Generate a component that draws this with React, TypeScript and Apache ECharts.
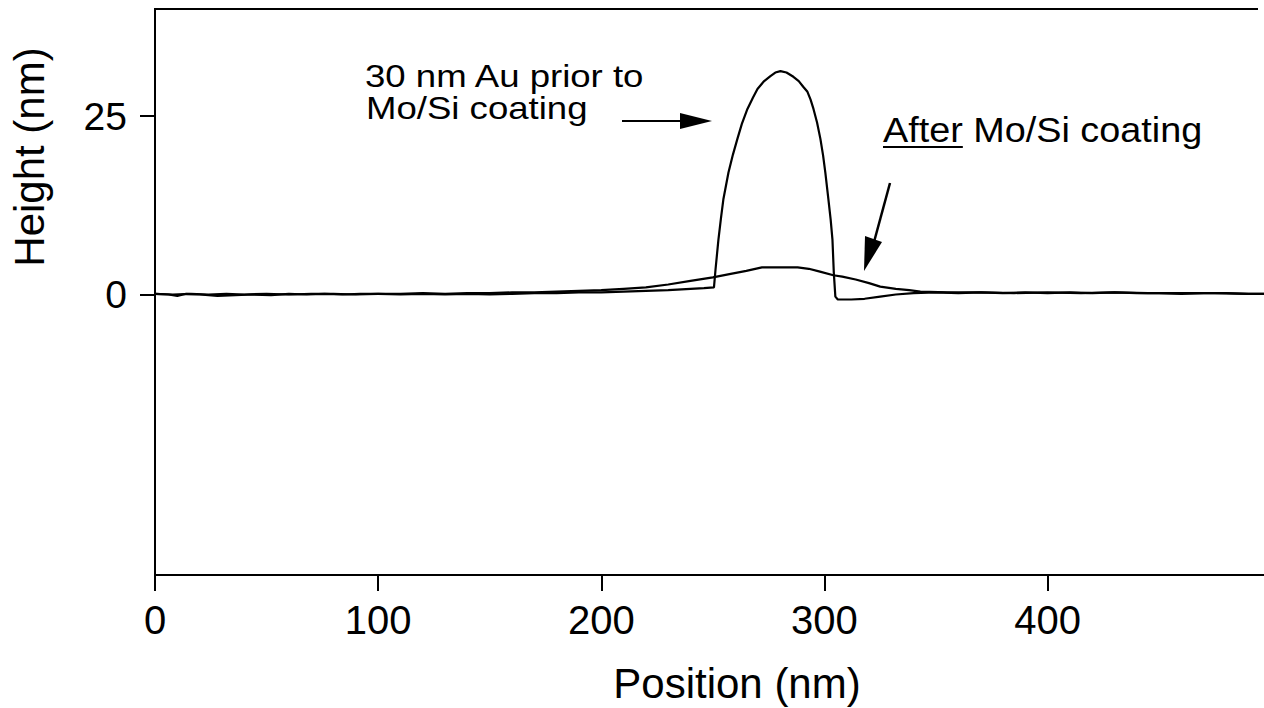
import React, { useEffect, useRef } from "react";
import * as echarts from "echarts";

// Height profile of 30 nm Au line before Mo/Si coating: [position nm, height nm]
const auPrior: [number, number][] = [
  [0, 0.1], [6, 0.0], [10, -0.2], [14, 0.1], [20, 0.0], [28, -0.2], [36, -0.1], [44, 0.0],
  [52, -0.1], [60, 0.1], [68, 0.0], [76, 0.1], [84, 0.0], [92, 0.1], [100, 0.1], [110, 0.0],
  [120, 0.1], [130, 0.0], [140, 0.1], [150, 0.0], [160, 0.1], [170, 0.2], [180, 0.2], [190, 0.3],
  [200, 0.3], [210, 0.4], [220, 0.5], [230, 0.6], [240, 0.8], [246, 0.9], [250.5, 1.0],
  [251.2, 3.5], [252.5, 7.7], [253.6, 10.6], [254.7, 13.3], [257, 17.1], [259, 19.6],
  [261, 21.8], [263, 23.9], [265.5, 26.0], [268, 27.6], [270, 28.8], [273, 29.9],
  [275.8, 30.6], [278, 31.1], [280.3, 31.3], [283, 31.1], [286.1, 30.5], [288.5, 29.9],
  [290.5, 29.1], [292.4, 28.4], [293.8, 27.3], [295.1, 26.0], [296.7, 24.1], [298.2, 21.8],
  [299.4, 19.5], [300.4, 17.1], [301.8, 13.3], [302.8, 10.5], [303.6, 7.7], [304.2, 3.1],
  [304.9, -0.3], [306, -0.7], [312, -0.7], [318, -0.6], [325, -0.3], [332, 0.0], [340, 0.2],
  [350, 0.3], [360, 0.2], [370, 0.3], [380, 0.2], [390, 0.3], [400, 0.2], [410, 0.3],
  [420, 0.2], [430, 0.3], [440, 0.2], [450, 0.2], [460, 0.1], [470, 0.2], [480, 0.2],
  [490, 0.1], [497, 0.1],
];

// Height profile after Mo/Si coating: [position nm, height nm]
const afterCoating: [number, number][] = [
  [0, 0.1], [8, 0.0], [16, 0.1], [24, 0.0], [32, 0.1], [40, 0.0], [50, 0.1], [60, 0.0],
  [70, 0.1], [80, 0.1], [90, 0.0], [100, 0.1], [110, 0.1], [120, 0.2], [130, 0.1], [140, 0.2],
  [150, 0.2], [160, 0.3], [170, 0.3], [180, 0.4], [190, 0.5], [200, 0.6], [210, 0.8],
  [220, 1.0], [230, 1.4], [240, 1.9], [250, 2.4], [258, 2.9], [265, 3.3], [272, 3.8],
  [280, 3.8], [288, 3.8], [293, 3.6], [298, 3.2], [304, 2.7], [308, 2.5], [314, 2.1],
  [320, 1.6], [325, 1.1], [332, 0.8], [338, 0.6], [343, 0.4], [355, 0.3], [370, 0.3],
  [385, 0.2], [400, 0.3], [415, 0.2], [430, 0.3], [445, 0.2], [460, 0.2], [475, 0.2],
  [490, 0.1], [497, 0.1],
];

const xTickValues = [0, 100, 200, 300, 400];
const yTickValues = [0, 25];

const xTitle = "Position (nm)";
const yTitle = "Height (nm)";
const noteAuLine1 = "30 nm Au prior to";
const noteAuLine2 = "Mo/Si coating";
const noteAfterUnderlined = "After";
const noteAfterRest = " Mo/Si coating";

const FONT = "'Liberation Sans', Arial, Helvetica, sans-serif";

export default function App() {
  const ref = useRef<HTMLDivElement>(null);

  useEffect(() => {
    if (!ref.current) return;
    const chart = echarts.init(ref.current, undefined, { renderer: "svg" });

    const afterW = 35 * 1.08;

    const option: any = {
      animation: false,
      backgroundColor: "#ffffff",
      grid: { left: 155, right: 0, top: 9, bottom: 133, containLabel: false },
      xAxis: {
        type: "value",
        min: 0,
        max: 497,
        position: "bottom",
        axisLine: { show: true, onZero: false, lineStyle: { color: "#000", width: 2 } },
        axisTick: {
          show: true,
          inside: false,
          length: 16,
          customValues: xTickValues,
          lineStyle: { color: "#000", width: 2 },
        },
        axisLabel: {
          customValues: xTickValues,
          fontSize: 40,
          color: "#000",
          fontFamily: FONT,
          margin: 25,
        },
        splitLine: { show: false },
      },
      yAxis: {
        type: "value",
        min: -39.3,
        max: 40,
        axisLine: { show: true, onZero: false, lineStyle: { color: "#000", width: 2 } },
        axisTick: {
          show: true,
          inside: false,
          length: 15,
          customValues: yTickValues,
          lineStyle: { color: "#000", width: 2 },
        },
        axisLabel: {
          customValues: yTickValues,
          fontSize: 39,
          color: "#000",
          fontFamily: FONT,
          margin: 28,
        },
        splitLine: { show: false },
      },
      series: [
        {
          type: "line",
          data: auPrior,
          showSymbol: false,
          lineStyle: { color: "#000", width: 2.2 },
          z: 3,
        },
        {
          type: "line",
          data: afterCoating,
          showSymbol: false,
          lineStyle: { color: "#000", width: 2.2 },
          z: 3,
        },
      ],
      graphic: [
        // top frame line
        {
          type: "line",
          shape: { x1: 154, y1: 9, x2: 1258, y2: 9 },
          style: { stroke: "#000", lineWidth: 2 },
        },
        // axis titles
        {
          type: "text",
          x: 29,
          y: 157,
          rotation: Math.PI / 2,
          style: {
            text: yTitle,
            fontSize: 42,
            fontFamily: FONT,
            fill: "#000",
            align: "center",
            verticalAlign: "middle",
          },
        },
        {
          type: "text",
          x: 737,
          y: 683,
          style: {
            text: xTitle,
            fontSize: 42,
            fontFamily: FONT,
            fill: "#000",
            align: "center",
            verticalAlign: "middle",
          },
        },
        // annotation 1
        {
          type: "text",
          x: 365,
          y: 76,
          scaleX: 1.18,
          style: {
            text: noteAuLine1,
            fontSize: 31,
            fontFamily: FONT,
            fill: "#000",
            align: "left",
            verticalAlign: "middle",
          },
        },
        {
          type: "text",
          x: 366,
          y: 108.5,
          scaleX: 1.18,
          style: {
            text: noteAuLine2,
            fontSize: 31,
            fontFamily: FONT,
            fill: "#000",
            align: "left",
            verticalAlign: "middle",
          },
        },
        // arrow 1
        {
          type: "line",
          shape: { x1: 622, y1: 121, x2: 690, y2: 121 },
          style: { stroke: "#000", lineWidth: 2 },
        },
        {
          type: "polygon",
          shape: { points: [[680, 113], [712, 121], [680, 129]] },
          style: { fill: "#000" },
        },
        // annotation 2
        {
          type: "text",
          x: 883,
          y: 129.5,
          scaleX: 1.08,
          style: {
            text: noteAfterUnderlined + noteAfterRest,
            fontSize: 35,
            fontFamily: FONT,
            fill: "#000",
            align: "left",
            verticalAlign: "middle",
          },
        },
        {
          type: "line",
          shape: { x1: 883, y1: 147, x2: 883 + 2.112 * afterW, y2: 147 },
          style: { stroke: "#000", lineWidth: 2 },
        },
        // arrow 2
        {
          type: "line",
          shape: { x1: 890, y1: 183, x2: 874, y2: 242 },
          style: { stroke: "#000", lineWidth: 2.5 },
        },
        {
          type: "polygon",
          shape: { points: [[865, 236], [882, 242], [864, 271]] },
          style: { fill: "#000" },
        },
      ],
    };

    chart.setOption(option);
    return () => {
      chart.dispose();
    };
  }, []);

  return (
    <div
      ref={ref}
      style={{
        position: "absolute",
        left: 0,
        top: 0,
        width: 1264,
        height: 708,
        background: "#fff",
      }}
    />
  );
}
